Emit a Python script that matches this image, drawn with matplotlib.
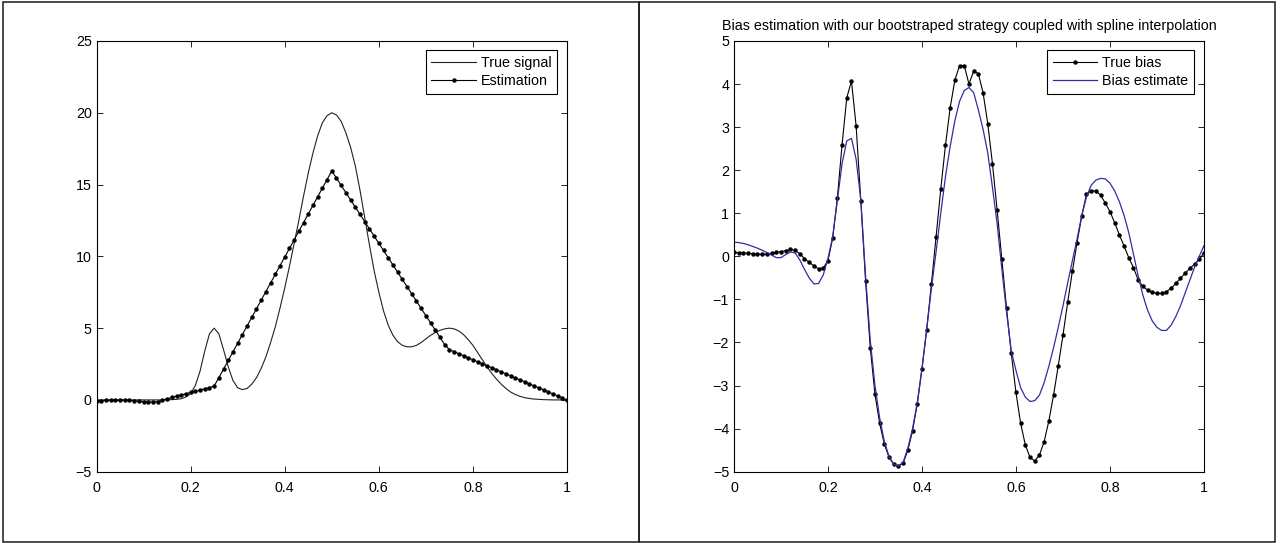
import numpy as np
import matplotlib
matplotlib.use("Agg")
import matplotlib.pyplot as plt
from matplotlib import font_manager
from matplotlib.patches import Rectangle

# narrow Helvetica-like face if present, otherwise plain Liberation Sans
installed = {f.name for f in font_manager.fontManager.ttflist}
if 'Liberation Sans Narrow' in installed:
    plt.rcParams['font.family'] = ['Liberation Sans Narrow', 'DejaVu Sans']
    FS = 12.5
else:
    plt.rcParams['font.family'] = ['Liberation Sans', 'DejaVu Sans']
    FS = 10.3

# sample grid on [0, 1], step 0.01
x = np.arange(101) / 100.0

# left panel: signal and its estimate
true_signal = [
    0.0, 0.0, 0.0, 0.0, 0.0, 0.0, 0.0, 0.0, 0.0, 0.0,
    0.0, 0.0, 0.0, 0.0, 0.0, 0.01, 0.02, 0.04, 0.08, 0.2,
    0.45, 1.0, 2.0, 3.4, 4.6, 5.0, 4.6, 3.5, 2.3, 1.35,
    0.85, 0.72, 0.8, 1.1, 1.55, 2.2, 3.0, 4.0, 5.1, 6.4,
    7.8, 9.3, 10.9, 12.5, 14.2, 15.8, 17.2, 18.4, 19.3, 19.8,
    20.0, 19.85, 19.4, 18.6, 17.6, 16.3, 14.6, 12.7, 10.8, 9.0,
    7.5, 6.2, 5.2, 4.5, 4.05, 3.8, 3.7, 3.7, 3.8, 4.0,
    4.25, 4.5, 4.7, 4.85, 4.95, 5.0, 4.95, 4.8, 4.55, 4.2,
    3.8, 3.3, 2.8, 2.3, 1.85, 1.45, 1.1, 0.8, 0.55, 0.38,
    0.25, 0.16, 0.1, 0.06, 0.04, 0.02, 0.01, 0.0, 0.0, 0.0,
    0.0,
]
estimation = [
    -0.05, -0.05, -0.04, -0.03, -0.02, -0.02, -0.02, -0.03, -0.06, -0.1,
    -0.13, -0.15, -0.16, -0.12, -0.02, 0.08, 0.17, 0.26, 0.35, 0.43,
    0.52, 0.6, 0.68, 0.77, 0.86, 0.97, 1.55, 2.15, 2.75, 3.35,
    3.95, 4.55, 5.15, 5.75, 6.35, 6.95, 7.55, 8.15, 8.75, 9.35,
    9.95, 10.55, 11.15, 11.75, 12.35, 12.95, 13.55, 14.15, 14.75, 15.35,
    15.95, 15.45, 14.94, 14.44, 13.93, 13.43, 12.93, 12.42, 11.92, 11.41,
    10.91, 10.41, 9.9, 9.4, 8.89, 8.39, 7.89, 7.38, 6.88, 6.37,
    5.87, 5.37, 4.86, 4.36, 3.85, 3.5, 3.36, 3.22, 3.08, 2.94,
    2.8, 2.66, 2.52, 2.38, 2.24, 2.1, 1.96, 1.82, 1.68, 1.54,
    1.4, 1.26, 1.12, 0.98, 0.84, 0.7, 0.56, 0.42, 0.28, 0.14,
    0.0,
]

# right panel: bias and its bootstrap/spline estimate
true_bias = [
    0.09, 0.08, 0.08, 0.07, 0.06, 0.05, 0.05, 0.05, 0.07, 0.09,
    0.11, 0.13, 0.16, 0.14, 0.06, -0.05, -0.14, -0.22, -0.29, -0.27,
    -0.1, 0.42, 1.36, 2.59, 3.68, 4.07, 3.02, 1.28, -0.57, -2.12,
    -3.2, -3.88, -4.36, -4.67, -4.83, -4.87, -4.8, -4.5, -4.05, -3.43,
    -2.62, -1.71, -0.65, 0.45, 1.56, 2.58, 3.45, 4.09, 4.43, 4.43,
    4.0, 4.3, 4.24, 3.8, 3.08, 2.15, 1.07, -0.07, -1.21, -2.25,
    -3.16, -3.88, -4.38, -4.67, -4.75, -4.61, -4.3, -3.82, -3.22, -2.54,
    -1.83, -1.07, -0.35, 0.32, 0.94, 1.44, 1.52, 1.52, 1.42, 1.24,
    1.04, 0.78, 0.5, 0.24, -0.03, -0.26, -0.55, -0.7, -0.78, -0.83,
    -0.86, -0.86, -0.82, -0.74, -0.63, -0.51, -0.39, -0.28, -0.18, -0.07,
    0.08,
]
bias_estimate = [
    0.33, 0.32, 0.3, 0.27, 0.23, 0.19, 0.14, 0.09, 0.03, -0.03,
    -0.03, 0.04, 0.1, 0.08, -0.08, -0.3, -0.5, -0.64, -0.63, -0.43,
    -0.05, 0.45, 1.3, 2.15, 2.68, 2.74, 2.25, 1.3, -0.45, -1.95,
    -3.0, -3.75, -4.3, -4.65, -4.83, -4.87, -4.78, -4.45, -4.0, -3.4,
    -2.6, -1.7, -0.75, 0.1, 1.0, 1.85, 2.55, 3.15, 3.6, 3.85,
    3.92, 3.8, 3.4, 2.95, 2.4, 1.6, 0.75, -0.3, -1.3, -2.2,
    -2.65, -3.05, -3.27, -3.37, -3.35, -3.22, -2.93, -2.55, -2.12, -1.65,
    -1.15, -0.62, -0.1, 0.4, 0.95, 1.38, 1.65, 1.77, 1.81, 1.8,
    1.7, 1.52, 1.27, 0.95, 0.55, 0.05, -0.45, -0.9, -1.25, -1.5,
    -1.65, -1.72, -1.72, -1.6, -1.4, -1.15, -0.85, -0.55, -0.25, 0.0,
    0.25,
]

x_ticks = [0, 0.2, 0.4, 0.6, 0.8, 1]
x_ticklabels = ['0', '0.2', '0.4', '0.6', '0.8', '1']
left_yticks = [-5, 0, 5, 10, 15, 20, 25]
right_yticks = [-5, -4, -3, -2, -1, 0, 1, 2, 3, 4, 5]

title_right = 'Bias estimation with our bootstraped strategy coupled with spline interpolation'

fig = plt.figure(figsize=(12.8, 5.43), dpi=100)
ax1 = fig.add_axes([0.0754, 0.1313, 0.3676, 0.7932])
ax2 = fig.add_axes([0.5734, 0.1313, 0.3672, 0.7932])

# frames around the two panels
for x0, x1 in [(3, 639), (639, 1275)]:
    fig.add_artist(Rectangle((x0 / 1280, 1.5 / 543), (x1 - x0) / 1280, 540 / 543,
                             transform=fig.transFigure, fill=False,
                             edgecolor='#1a1a1a', lw=1.1))


def style_axes(ax, yticks):
    ax.set_xlim(0, 1)
    ax.set_ylim(yticks[0], yticks[-1])
    ax.set_xticks(x_ticks)
    ax.set_xticklabels(x_ticklabels)
    ax.set_yticks(yticks)
    ax.tick_params(direction='in', top=True, right=True, length=4, width=0.6,
                   labelsize=FS, colors='black')
    ax.tick_params(axis='x', pad=6.5)
    ax.tick_params(axis='y', pad=3.5)
    for sp in ax.spines.values():
        sp.set_linewidth(0.8)


def add_legend(ax, anchor):
    leg = ax.legend(loc='upper right', bbox_to_anchor=anchor, borderaxespad=0,
                    fancybox=False, edgecolor='black', framealpha=1, fontsize=FS,
                    handlelength=3.1, handletextpad=0.35, labelspacing=0.3,
                    borderpad=0.4)
    leg.get_frame().set_linewidth(0.8)
    return leg


# left: true signal vs estimation
ax1.plot(x, true_signal, color='#222222', lw=0.8, label='True signal')
ax1.plot(x, estimation, color='black', lw=0.8, marker='o', markersize=2.2,
         label='Estimation')
style_axes(ax1, left_yticks)
add_legend(ax1, (0.979, 0.979))

# right: true bias vs bias estimate
ax2.plot(x, true_bias, color='black', lw=0.8, marker='o', markersize=2.2,
         label='True bias')
ax2.plot(x, bias_estimate, color='#2e2ea6', lw=0.9, label='Bias estimate')
style_axes(ax2, right_yticks)
ax2.set_title(title_right, fontsize=FS, pad=8)
add_legend(ax2, (0.979, 0.979))

fig.savefig('out.png', dpi=100)
